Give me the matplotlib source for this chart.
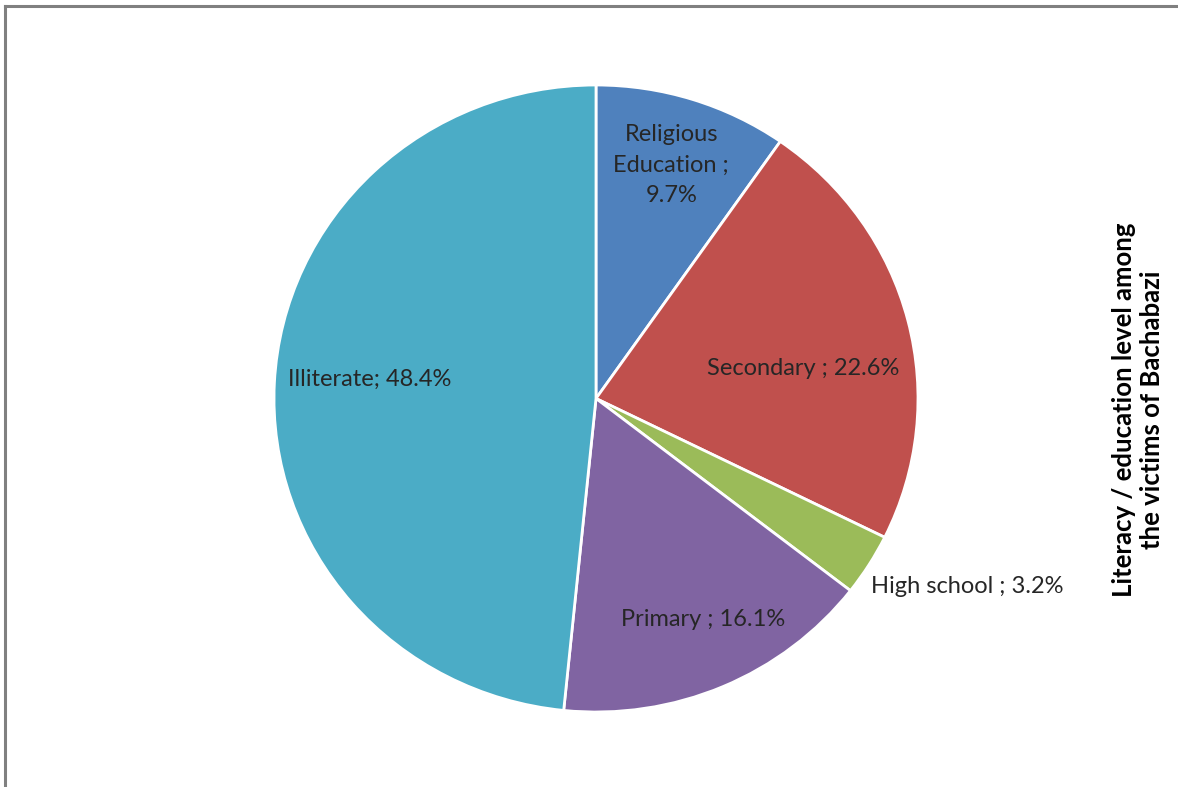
import numpy as np
import matplotlib
matplotlib.use('Agg')
import matplotlib.pyplot as plt
from matplotlib.lines import Line2D

plt.rcParams['font.family'] = ['Lato', 'DejaVu Sans']

# education level shares, clockwise from 12 o'clock
categories = ['Religious\nEducation ;', 'Secondary ;', 'High school ;', 'Primary ;', 'Illiterate;']
shares = [9.7, 22.6, 3.2, 16.1, 48.4]
colors = ['#4f81bd', '#c0504d', '#9bbb59', '#8064a2', '#4bacc6']
title = 'Literacy / education level among\nthe victims of Bachabazi'

W, H = 1178, 787
fig = plt.figure(figsize=(W / 100, H / 100), dpi=100)

# pie box in pixels (slightly wider than tall)
cx, cy, rx, ry = 596, 398.5, 322, 313.5
ax = fig.add_axes([(cx - rx) / W, (H - cy - ry) / H, 2 * rx / W, 2 * ry / H])

wedges, _ = ax.pie(shares, colors=colors, startangle=90, counterclock=False,
                   radius=1, wedgeprops=dict(edgecolor='white', linewidth=2))
ax.set_aspect('auto')
ax.set_xlim(-1, 1)
ax.set_ylim(-1, 1)
ax.axis('off')

# label placement: radius and angle nudge (deg) per slice
label_r = [0.78, 0.65, 1.30, 0.78, 0.705]
label_da = [0, 6, -4.5, -2, 2]
start = 0.0
for name, val, r, da in zip(categories, shares, label_r, label_da):
    mid = np.radians((start + val / 2) / 100 * 360 + da)
    start += val
    sep = '\n' if '\n' in name else ' '
    txt = f'{name}{sep}{val:.1f}%'
    ax.text(r * np.sin(mid), r * np.cos(mid), txt, ha='center', va='center',
            fontsize=17, color='#262626', linespacing=1.55)

fig.text(1138 / W, 1 - 410 / H, title, rotation=90, ha='center', va='center',
         fontsize=18.5, fontweight='bold', color='black', linespacing=1.25)

# chart frame (top and left edges only)
fig.add_artist(Line2D([5 / W, 1], [1 - 6 / H, 1 - 6 / H], color='#808080', lw=2.2))
fig.add_artist(Line2D([5 / W, 5 / W], [0, 1 - 6 / H], color='#808080', lw=2.2))

fig.savefig('out.png', dpi=100, facecolor='white')
